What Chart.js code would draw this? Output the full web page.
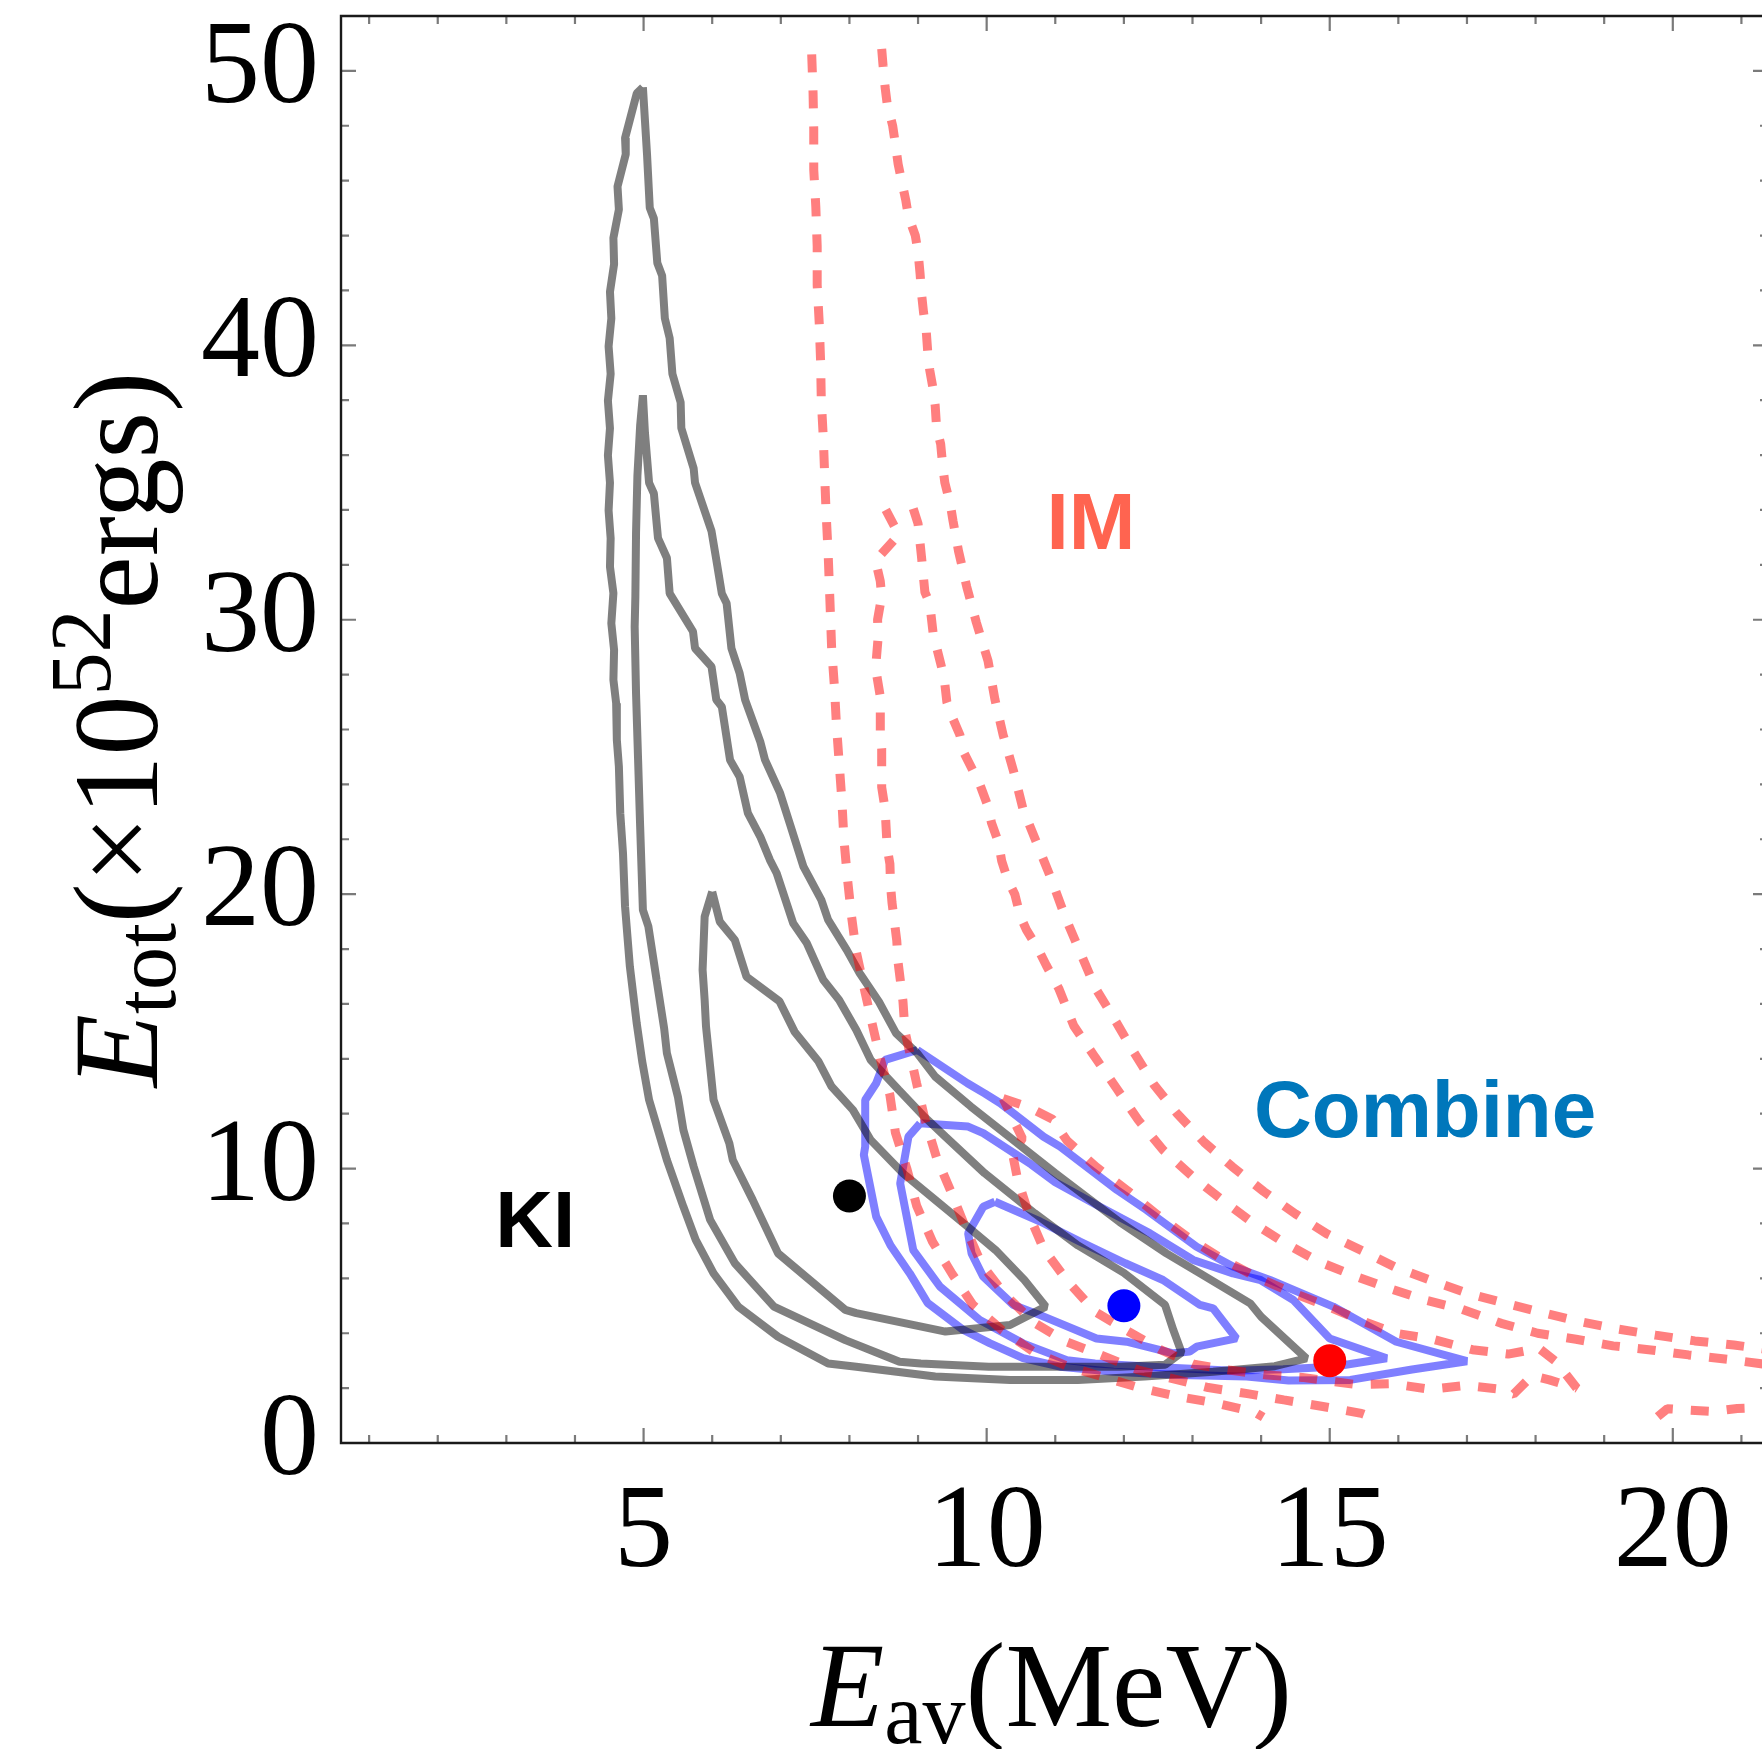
<!DOCTYPE html>
<html>
<head>
<meta charset="utf-8">
<script src="https://cdn.jsdelivr.net/npm/chart.js@4.4.1/dist/chart.umd.min.js"></script>
<style>
  html, body { margin: 0; padding: 0; background: #fff; overflow: hidden; }
  canvas { display: block; }
</style>
</head>
<body>
<canvas id="c" width="1762" height="1749"></canvas>
<script>
// Axis ticks (labelled values)
const X_TICKS = [5, 10, 15, 20];
const Y_TICKS = [0, 10, 20, 30, 40, 50];

// Best-fit points: [E_av (MeV), E_tot (1e52 erg)]
const KI_BEST = [[8, 9]];
const COMBINE_BEST = [[12, 5]];
const IM_BEST = [[15, 3]];

// KI contours (outer, middle, inner)
const KI_OUTER = [
  [4.99,49.4],[4.90,49.18],[4.73,47.55],[4.74,46.96],[4.62,45.79],[4.64,44.95],[4.56,43.91],[4.57,42.96],
  [4.51,41.95],[4.53,40.98],[4.49,39.96],[4.52,38.96],[4.48,37.98],[4.51,36.98],[4.48,35.99],[4.51,34.99],
  [4.49,33.98],[4.52,32.97],[4.51,31.93],[4.56,30.97],[4.53,29.87],[4.57,28.9],[4.56,27.81],[4.60,26.96],
  [4.61,25.62],[4.64,24.65],[4.66,22.95],[4.70,21.49],[4.73,19.54],[4.80,17.36],[4.90,15.29],[4.98,13.9],
  [5.08,12.5],[5.34,10.31],[5.58,8.61],[5.76,7.40],[6.02,6.18],[6.38,4.97],[6.96,3.87],[7.69,2.90],
  [8.10,2.78],[9.25,2.42],[10.34,2.30],[11.33,2.30],[12.3,2.42],[13.3,2.6],[14.2,2.8],[14.66,3.08],
  [14.0,4.6],[13.84,5.09],[13.11,6.18],[12.62,6.91],[11.94,8.05],[11.0,9.83],[10.39,11.04],[9.77,12.26],
  [9.25,13.35],[8.99,14.2],[8.68,14.93],[8.43,16.08],[8.15,17.12],[7.96,17.97],[7.69,19.06],[7.59,19.79],
  [7.33,21.0],[7.13,22.58],[6.99,23.68],[6.77,24.89],[6.70,25.56],[6.48,27.08],[6.40,28.05],[6.28,28.96],
  [6.21,30.6],[6.14,30.96],[6.06,32.18],[5.99,33.23],[5.75,34.99],[5.73,35.51],[5.55,36.98],[5.54,37.92],
  [5.42,38.96],[5.38,40.26],[5.31,40.98],[5.27,42.54],[5.20,43.0],[5.15,44.62],[5.09,45.01],[5.05,46.96],
  [4.99,49.4]
];
const KI_MIDDLE = [
  [4.99,38.18],[4.95,37.08],[4.91,35.25],[4.89,33.17],[4.88,30.83],[4.87,29.75],[4.89,27.32],[4.92,24.89],
  [4.95,22.46],[4.99,19.42],[5.07,18.82],[5.19,16.87],[5.30,15.1],[5.34,14.2],[5.50,12.62],[5.58,11.41],
  [5.73,10.07],[5.97,8.13],[6.33,6.55],[6.90,4.97],[7.94,3.75],[8.73,2.96],[9.04,2.90],[10.03,2.78],
  [11.94,2.78],[12.6,2.85],[12.84,3.3],[12.72,4.12],[12.6,5.03],[12.0,6.2],[11.33,7.2],[10.70,8.37],
  [9.97,9.83],[9.40,11.16],[9.09,11.89],[8.72,12.86],[8.31,13.96],[8.10,15.05],[7.85,16.14],[7.62,16.87],
  [7.38,18.21],[7.18,18.94],[6.94,20.76],[6.84,21.25],[6.70,22.1],[6.52,22.95],[6.40,24.28],[6.26,24.89],
  [6.14,26.83],[6.06,27.08],[5.99,28.29],[5.75,28.96],[5.72,29.57],[5.38,30.96],[5.34,32.25],[5.21,32.97],
  [5.15,34.6],[5.08,34.99],[5.02,36.81],[4.99,38.18]
];
const KI_INNER = [
  [6.0,20.09],[5.89,19.18],[5.86,17.24],[5.89,16.14],[5.91,15.17],[5.97,13.71],[6.02,12.5],[6.25,10.92],
  [6.30,10.31],[6.59,8.86],[6.96,6.91],[7.94,4.85],[8.10,4.73],[9.40,4.06],[10.34,4.30],[10.86,4.97],
  [10.55,5.94],[10.13,7.03],[9.72,7.89],[9.25,8.86],[8.78,9.83],[8.31,11.04],[8.05,12.14],[7.74,12.99],
  [7.55,13.9],[7.20,14.99],[6.98,16.1],[6.50,16.99],[6.33,18.33],[6.11,19.0],[6.0,20.09]
];

// Combined-analysis contours (outer, middle, inner)
const COMBINE_OUTER = [
  [8.99,14.32],[8.52,13.96],[8.39,13.11],[8.23,12.5],[8.23,10.8],[8.21,10.5],[8.39,8.25],[8.6,7.2],
  [8.88,6.18],[9.14,5.1],[9.66,4.12],[10.05,3.63],[10.53,3.09],[11.07,2.78],[11.85,2.6],[12.82,2.48],
  [13.79,2.42],[14.4,2.28],[15.3,2.3],[16.2,2.68],[17.0,2.98],[15.97,3.69],[15.05,4.97],[14.13,5.94],
  [13.59,6.43],[13.06,7.15],[12.33,8.49],[11.9,9.22],[11.07,10.8],[10.83,11.16],[10.2,12.38],[9.97,12.74],
  [9.72,13.11],[8.99,14.32]
];
const COMBINE_MIDDLE = [
  [9.03,11.65],[9.73,11.53],[9.95,11.29],[10.65,10.15],[11.0,9.5],[11.65,8.61],[12.38,7.64],[13.01,6.67],
  [13.59,6.18],[13.99,5.94],[14.47,5.21],[15.0,3.81],[15.83,3.09],[15.05,2.78],[14.32,2.69],[13.59,2.63],
  [12.6,2.75],[11.58,2.90],[11.17,3.02],[10.53,3.63],[9.9,4.48],[9.32,5.7],[8.93,7.03],[8.74,9.46],
  [8.86,11.16],[9.03,11.65]
];
const COMBINE_INNER = [
  [10.12,8.79],[9.95,8.61],[9.73,7.64],[9.78,6.91],[9.95,6.06],[10.39,5.03],[10.78,4.66],[11.6,3.81],
  [12.04,3.69],[12.72,3.27],[12.96,3.33],[13.06,3.51],[13.64,3.81],[13.3,4.91],[13.11,5.03],[12.57,5.94],
  [12.02,6.55],[11.36,7.34],[10.78,8.07],[10.12,8.79]
];

// IM contours: outer (two branches plus the lower-right piece), middle (two branches), inner
const IM_OUTER_LEFT = [
  [7.45,50.6],[7.47,49.2],[7.48,47.85],[7.48,46.4],[7.51,45.05],[7.53,43.6],[7.53,42.2],[7.56,40.8],
  [7.58,39.4],[7.59,38.0],[7.62,36.6],[7.64,35.2],[7.66,33.9],[7.69,32.4],[7.72,30.4],[7.74,29.0],
  [7.78,27.6],[7.81,26.2],[7.85,24.8],[7.89,23.4],[7.92,22.0],[7.97,20.6],[8.03,19.2],[8.10,17.9],
  [8.23,16.4],[8.32,15.4],[8.45,14.0],[8.59,12.68],[8.67,11.31],[8.84,9.97],[8.98,8.64],[9.21,7.34],
  [9.50,6.15],[9.80,5.03],[10.22,4.12],[10.68,3.33],[11.19,2.78],[11.72,2.39],[12.26,1.99],[12.80,1.69],
  [13.35,1.45],[13.91,1.12],[14.03,0.94]
];
const IM_OUTER_RIGHT = [
  [8.47,50.8],[8.49,50.2],[8.52,49.4],[8.55,48.8],[8.63,48.0],[8.66,47.5],[8.71,46.6],[8.76,46.0],
  [8.82,45.3],[8.86,44.7],[8.96,44.0],[9.0,43.4],[9.03,42.6],[9.05,41.9],[9.08,41.2],[9.12,40.5],
  [9.14,39.8],[9.17,39.1],[9.22,38.4],[9.25,37.8],[9.27,37.0],[9.33,36.4],[9.36,35.6],[9.39,35.0],
  [9.47,34.2],[9.51,33.6],[9.59,32.5],[9.71,31.2],[9.85,29.9],[10.02,28.5],[10.12,27.1],[10.24,25.8],
  [10.39,24.5],[10.53,23.1],[10.74,21.8],[10.95,20.5],[11.14,19.2],[11.36,17.9],[11.58,16.6],[11.85,15.5],
  [12.14,14.26],[12.44,13.05],[12.78,11.99],[13.17,10.96],[13.58,10.07],[14.04,9.16],[14.5,8.35],[14.96,7.62],
  [15.47,7.01],[15.96,6.4],[16.49,5.91],[17.02,5.45],[17.56,5.09],[18.1,4.75],[18.66,4.42],[19.2,4.15],
  [19.75,3.93],[20.32,3.72],[20.89,3.57],[21.4,3.4]
];
const IM_OUTER_TAIL = [
  [19.78,0.96],[19.92,1.25],[20.2,1.2],[20.57,1.15],[20.94,1.26],[21.4,1.3]
];
const IM_MIDDLE_LEFT = [
  [8.53,34.0],[8.72,33.1],[8.38,32.15],[8.45,31.4],[8.47,30.85],[8.41,30.0],[8.42,29.4],[8.39,28.5],
  [8.39,28.1],[8.45,27.2],[8.45,25.9],[8.47,25.3],[8.47,23.9],[8.52,23.1],[8.55,21.7],[8.59,21.1],
  [8.60,20.3],[8.62,19.7],[8.66,18.9],[8.69,18.3],[8.71,17.5],[8.74,16.9],[8.78,16.1],[8.81,15.0],
  [8.98,13.1],[9.1,11.8],[9.27,10.4],[9.49,9.1],[9.7,7.8],[9.93,6.5],[10.27,5.4],[10.68,4.4],
  [11.15,3.7],[11.67,3.2],[12.21,2.66],[12.74,2.33],[13.23,2.02],[13.8,1.8],[14.33,1.57],[14.9,1.33],
  [15.46,1.08],[15.59,0.96]
];
const IM_MIDDLE_RIGHT = [
  [8.93,34.05],[9.0,33.5],[9.05,32.3],[9.1,31.0],[9.17,30.6],[9.22,29.5],[9.32,28.5],[9.38,27.9],
  [9.42,27.0],[9.49,26.5],[9.61,25.8],[9.66,25.2],[9.80,24.5],[9.90,24.0],[10.02,23.2],[10.07,22.6],
  [10.17,21.9],[10.22,21.2],[10.31,20.5],[10.41,20.0],[10.49,19.2],[10.58,18.7],[10.75,18.0],[10.87,17.4],
  [11.05,16.57],[11.27,15.2],[11.58,14.06],[11.9,12.9],[12.21,11.77],[12.57,10.68],[13.0,9.71],[13.43,8.86],
  [13.87,8.04],[14.35,7.28],[14.84,6.61],[15.35,6.1],[15.86,5.64],[16.39,5.21],[16.92,4.88],[17.5,4.36],
  [18.03,4.0],[18.59,3.78],[19.13,3.54],[19.68,3.39],[20.23,3.21],[20.8,3.05],[21.4,2.85]
];
const IM_INNER = [
  [10.24,12.55],[10.6,12.25],[10.96,11.8],[11.17,11.02],[11.59,10.07],[12.05,9.2],[12.49,8.31],[12.92,7.52],
  [13.39,6.77],[13.89,6.1],[14.42,5.51],[14.92,5.03],[15.44,4.48],[15.96,4.0],[16.5,3.78],[17.08,3.4],
  [17.6,3.24],[18.05,3.45],[18.3,2.96],[18.6,2.0],[18.2,2.3],[17.95,2.45],[17.68,1.78],[17.45,1.97],
  [17.0,2.1],[16.46,1.96],[15.9,2.16],[15.38,2.13],[14.6,2.39],[14.08,2.48],[13.53,2.66],[13.02,2.87],
  [12.53,3.4],[12.07,4.06],[11.58,4.78],[11.17,5.93],[10.83,7.07],[10.62,8.3],[10.45,9.62],[10.38,10.5],
  [10.52,11.1],[10.24,12.55]
];

// Text labels placed in data coordinates
const LABELS = [
  { text: 'KI', x: 3.42, y: 7.15, color: '#000000' },
  { text: 'IM', x: 11.52, y: 32.57, color: '#FF6450' },
  { text: 'Combine', x: 16.39, y: 11.16, color: '#0077BB' }
];

const pts = arr => arr.map(([x, y]) => ({ x, y }));

const SERIF = '"Liberation Serif", "Times New Roman", Times, serif';
const SANS = '"Liberation Sans", Arial, Helvetica, sans-serif';

const GRAY = 'rgba(0,0,0,0.5)';
const BLUE = 'rgba(0,0,255,0.5)';
const RED = 'rgba(255,0,0,0.5)';

function contour(data, color, order, dashed) {
  return {
    data: pts(data),
    showLine: true,
    borderColor: color,
    borderWidth: dashed ? 9 : 8,
    borderDash: dashed ? [18, 18] : [],
    borderCapStyle: 'butt',
    borderJoinStyle: 'bevel',
    pointRadius: 0,
    pointHoverRadius: 0,
    tension: 0,
    fill: false,
    order: order
  };
}

function marker(data, color) {
  return {
    data: pts(data),
    showLine: false,
    pointRadius: 16.5,
    pointHoverRadius: 16.5,
    pointBackgroundColor: color,
    pointBorderWidth: 0,
    order: 0
  };
}

// Frame with inward tick marks on all four sides
const framePlugin = {
  id: 'frame',
  afterDraw(chart) {
    const { ctx, chartArea: a, scales } = chart;
    const xs = scales.x, ys = scales.y;
    const rightEdge = a.right + 6;
    ctx.save();
    ctx.strokeStyle = '#7a7a7a';
    ctx.lineWidth = 2.2;
    ctx.beginPath();
    for (let v = 1; v <= 21; v++) {
      const len = X_TICKS.includes(v) ? 15 : 8;
      const px = xs.getPixelForValue(v);
      ctx.moveTo(px, a.bottom); ctx.lineTo(px, a.bottom - len);
      ctx.moveTo(px, a.top); ctx.lineTo(px, a.top + len);
    }
    for (let v = 0; v <= 52; v += 2) {
      const len = Y_TICKS.includes(v) ? 15 : 8;
      const py = ys.getPixelForValue(v);
      ctx.moveTo(a.left, py); ctx.lineTo(a.left + len, py);
      ctx.moveTo(rightEdge, py); ctx.lineTo(rightEdge - len, py);
    }
    ctx.stroke();
    ctx.strokeStyle = '#1a1a1a';
    ctx.lineWidth = 2.4;
    ctx.beginPath();
    ctx.moveTo(rightEdge, a.top);
    ctx.lineTo(a.left, a.top);
    ctx.lineTo(a.left, a.bottom);
    ctx.lineTo(rightEdge, a.bottom);
    ctx.stroke();
    ctx.restore();
  }
};

// Draws a run of [text, font, baselineShift] pieces starting at x0 along the baseline
function runWidth(ctx, parts) {
  let w = 0;
  for (const p of parts) { ctx.font = p[1]; w += ctx.measureText(p[0]).width; }
  return w;
}
function drawRun(ctx, parts, x0) {
  let x = x0;
  for (const p of parts) {
    ctx.font = p[1];
    ctx.fillText(p[0], x, p[2]);
    x += ctx.measureText(p[0]).width;
  }
}

const titlePlugin = {
  id: 'titles',
  afterDraw(chart) {
    const { ctx, chartArea: a, scales } = chart;
    ctx.save();
    ctx.fillStyle = '#000';
    ctx.textBaseline = 'alphabetic';
    ctx.textAlign = 'left';

    const big = 'italic 120px ' + SERIF;
    const roman = '120px ' + SERIF;
    const small = '86px ' + SERIF;

    // x-axis title: E_av(MeV)
    const xParts = [['E', big, 0], ['av', small, 17], ['(MeV)', roman, 0]];
    const xw = runWidth(ctx, xParts);
    ctx.save();
    ctx.translate((a.left + a.right) / 2, 1726);
    drawRun(ctx, xParts, -xw / 2);
    ctx.restore();

    // y-axis title: E_tot(×10^52 ergs)
    const yParts = [['E', big, 0], ['tot', small, 18], ['(×10', roman, 0], ['52', small, -47], ['ergs)', roman, 0]];
    const yw = runWidth(ctx, yParts);
    ctx.save();
    ctx.translate(157, (a.top + a.bottom) / 2);
    ctx.rotate(-Math.PI / 2);
    drawRun(ctx, yParts, -yw / 2);
    ctx.restore();

    // In-plot labels
    ctx.textAlign = 'center';
    ctx.font = 'bold 80px ' + SANS;
    for (const l of LABELS) {
      ctx.fillStyle = l.color;
      ctx.fillText(l.text, scales.x.getPixelForValue(l.x), scales.y.getPixelForValue(l.y));
    }
    ctx.restore();
  }
};

new Chart(document.getElementById('c'), {
  type: 'scatter',
  data: {
    datasets: [
      marker(KI_BEST, '#000000'),
      marker(COMBINE_BEST, '#0000FF'),
      marker(IM_BEST, '#FF0000'),
      contour(IM_OUTER_LEFT, RED, 1, true),
      contour(IM_OUTER_RIGHT, RED, 1, true),
      contour(IM_OUTER_TAIL, RED, 1, true),
      contour(IM_MIDDLE_LEFT, RED, 1, true),
      contour(IM_MIDDLE_RIGHT, RED, 1, true),
      contour(IM_INNER, RED, 1, true),
      contour(KI_OUTER, GRAY, 2, false),
      contour(KI_MIDDLE, GRAY, 2, false),
      contour(KI_INNER, GRAY, 2, false),
      contour(COMBINE_OUTER, BLUE, 3, false),
      contour(COMBINE_MIDDLE, BLUE, 3, false),
      contour(COMBINE_INNER, BLUE, 3, false)
    ]
  },
  options: {
    responsive: false,
    animation: false,
    devicePixelRatio: 1,
    events: [],
    layout: { autoPadding: false, padding: { top: 16, left: 0, right: 0, bottom: 0 } },
    plugins: { legend: { display: false }, tooltip: { enabled: false } },
    scales: {
      x: {
        type: 'linear',
        min: 0.59,
        max: 21.3,
        grid: { display: false },
        border: { display: false },
        ticks: {
          color: '#000',
          font: { family: SERIF, size: 118, lineHeight: 1.2 },
          padding: 13,
          maxRotation: 0,
          autoSkip: false,
          callback: v => String(v)
        },
        afterBuildTicks: s => { s.ticks = X_TICKS.map(v => ({ value: v })); },
        afterFit: s => {
          s.height = 306;
          s.paddingLeft = 0; s.paddingRight = 0; s.paddingTop = 0; s.paddingBottom = 0;
        }
      },
      y: {
        type: 'linear',
        min: 0,
        max: 52,
        grid: { display: false },
        border: { display: false },
        ticks: {
          color: '#000',
          font: { family: SERIF, size: 118, lineHeight: 0.2 },
          padding: 14,
          autoSkip: false,
          callback: v => String(v)
        },
        afterBuildTicks: s => { s.ticks = Y_TICKS.map(v => ({ value: v })); },
        afterFit: s => {
          s.width = 341;
          s.paddingLeft = 0; s.paddingRight = 0; s.paddingTop = 0; s.paddingBottom = 0;
        }
      }
    }
  },
  plugins: [framePlugin, titlePlugin]
});
</script>
</body>
</html>
